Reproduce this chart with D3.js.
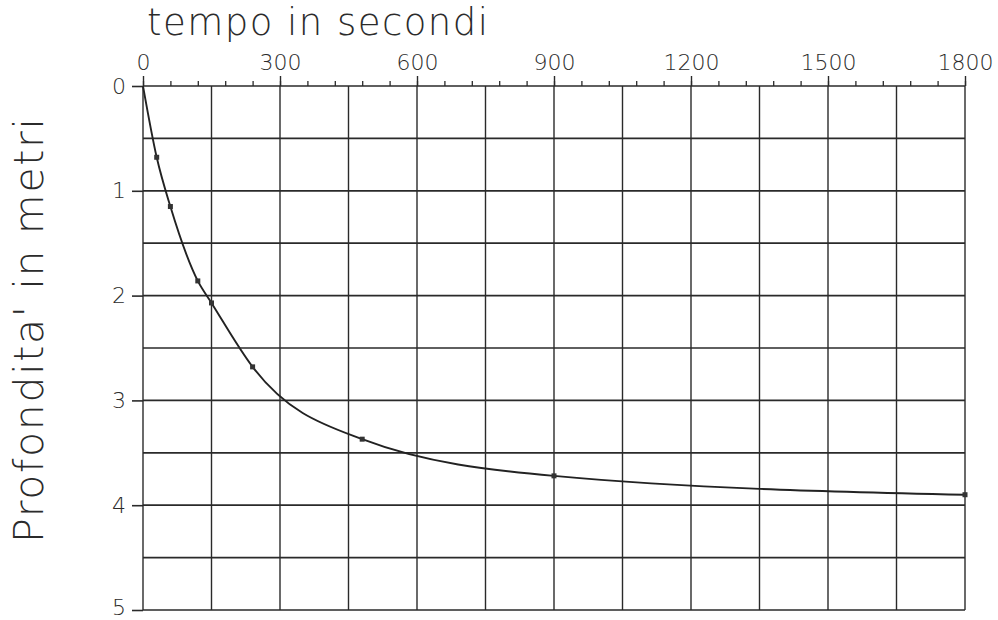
<!DOCTYPE html>
<html>
<head>
<meta charset="utf-8">
<script src="https://cdn.jsdelivr.net/npm/d3@7"></script>
<style>
  html, body { margin: 0; padding: 0; background: #fff; }
  svg { display: block; }
  text { font-family: "DejaVu Sans", "Liberation Sans", sans-serif; fill: #2b2b2b; }
</style>
</head>
<body>
<svg id="chart" width="998" height="620"></svg>
<script>
// ---- data ----
const timeSec = [0, 30, 60, 120, 150, 240, 480, 900, 1800];
const depthM  = [0, 0.68, 1.15, 1.86, 2.07, 2.68, 3.37, 3.72, 3.90];
const markerTimes = [30, 60, 120, 150, 240, 480, 900, 1800];
const xMajorTicks = [0, 300, 600, 900, 1200, 1500, 1800];
const xMinorTicks = d3.range(0, 1801, 60);
const xGridTicks  = d3.range(0, 1801, 150);
const yMajorTicks = [0, 1, 2, 3, 4, 5];
const yGridTicks  = d3.range(0, 5.01, 0.5);
const xTitle = "tempo in secondi";
const yTitle = "Profondita' in metri";

// ---- layout ----
const svg = d3.select("#chart");
const x = d3.scaleLinear().domain([0, 1800]).range([143, 965]);
const y = d3.scaleLinear().domain([0, 5]).range([86, 610]);
const ink = "#2a2a2a";

// grid
const grid = svg.append("g");
grid.selectAll("line.v").data(xGridTicks).join("line")
  .attr("class", "v")
  .attr("x1", d => x(d)).attr("x2", d => x(d))
  .attr("y1", y(0)).attr("y2", y(5))
  .attr("stroke", ink).attr("stroke-width", 1.4);
grid.selectAll("line.h").data(yGridTicks).join("line")
  .attr("class", "h")
  .attr("x1", x(0)).attr("x2", x(1800))
  .attr("y1", d => y(d)).attr("y2", d => y(d))
  .attr("stroke", ink).attr("stroke-width", 1.7);

// top axis: minor ticks
const minorAxis = svg.append("g").attr("transform", `translate(0,${y(0)})`)
  .call(d3.axisTop(x).tickValues(xMinorTicks).tickSize(5).tickFormat(""));
minorAxis.select(".domain").remove();
minorAxis.selectAll("line").attr("stroke", ink).attr("stroke-width", 1.3);

// top axis: major ticks + labels
const majorAxis = svg.append("g").attr("transform", `translate(0,${y(0)})`)
  .call(d3.axisTop(x).tickValues(xMajorTicks).tickSize(10).tickPadding(6).tickFormat(d3.format("d")));
majorAxis.select(".domain").remove();
majorAxis.selectAll("line").attr("stroke", ink).attr("stroke-width", 1.4);
majorAxis.selectAll("text").attr("font-size", 22).attr("font-weight", 300).attr("fill", "#2b2b2b")
  .style("font-family", '"DejaVu Sans", sans-serif');

// left axis
const leftAxis = svg.append("g").attr("transform", `translate(${x(0)},0)`)
  .call(d3.axisLeft(y).tickValues(yMajorTicks).tickSize(11).tickPadding(6).tickFormat(d3.format("d")));
leftAxis.select(".domain").remove();
leftAxis.selectAll("line").attr("stroke", ink).attr("stroke-width", 1.6);
leftAxis.selectAll("text").attr("font-size", 22).attr("font-weight", 300).attr("fill", "#2b2b2b")
  .style("font-family", '"DejaVu Sans", sans-serif');
leftAxis.selectAll(".tick").filter(d => d === 5).select("text").attr("dy", "0.2em");

// curve
const pts = timeSec.map((t, i) => [t, depthM[i]]);
const line = d3.line().x(d => x(d[0])).y(d => y(d[1])).curve(d3.curveMonotoneX);
svg.append("path").datum(pts)
  .attr("d", line).attr("fill", "none")
  .attr("stroke", "#222").attr("stroke-width", 1.9);

// markers
const markers = pts.filter(p => markerTimes.includes(p[0]));
svg.selectAll("rect.mk").data(markers).join("rect")
  .attr("class", "mk")
  .attr("x", d => x(d[0]) - 2.5).attr("y", d => y(d[1]) - 2.5)
  .attr("width", 5).attr("height", 5)
  .attr("fill", "#333");

// titles
svg.append("text")
  .attr("x", 147).attr("y", 35)
  .attr("font-size", 37).attr("font-weight", 300)
  .attr("textLength", 341).attr("lengthAdjust", "spacing")
  .text(xTitle);

svg.append("text")
  .attr("transform", "translate(43,543) rotate(-90)")
  .attr("x", 0).attr("y", 0)
  .attr("font-size", 41).attr("font-weight", 300)
  .attr("textLength", 425).attr("lengthAdjust", "spacing")
  .text(yTitle);
</script>
</body>
</html>
